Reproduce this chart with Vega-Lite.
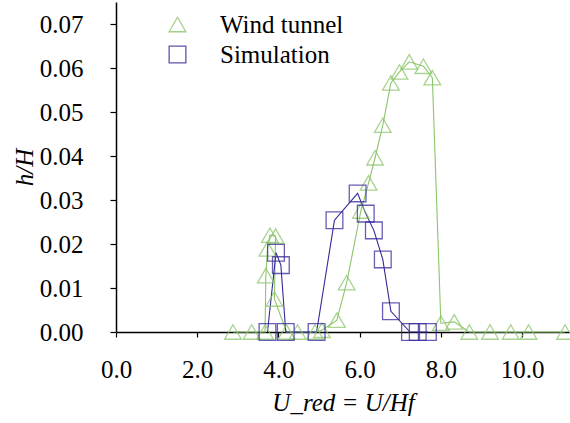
{
  "$schema": "https://vega.github.io/schema/vega-lite/v6.json",
  "autosize": "none",
  "width": 454,
  "height": 330,
  "padding": {"left": 116, "top": 2, "right": 0, "bottom": 91},
  "config": {
    "view": {"stroke": null},
    "axis": {
      "grid": false,
      "domainColor": "#000000",
      "domainWidth": 1.5,
      "tickColor": "#000000",
      "tickWidth": 1.2,
      "labelFont": "Liberation Serif",
      "labelFontSize": 25,
      "labelColor": "#000000",
      "titleFont": "Liberation Serif",
      "titleFontStyle": "italic",
      "titleFontWeight": "normal",
      "titleFontSize": 25,
      "titleColor": "#000000"
    }
  },
  "data": {
    "values": [
      {"series": "Wind tunnel", "marker": "Wind tunnel", "i": 1, "x": 2.88, "y": 0},
      {"series": "Wind tunnel", "marker": "Wind tunnel", "i": 2, "x": 3.34, "y": 0},
      {"series": "Wind tunnel", "marker": "Wind tunnel", "i": 3, "x": 3.67, "y": 0},
      {"series": "Wind tunnel", "marker": "Wind tunnel", "i": 4, "x": 3.69, "y": 0.0128},
      {"series": "Wind tunnel", "marker": "Wind tunnel", "i": 5, "x": 3.73, "y": 0.0189},
      {"series": "Wind tunnel", "marker": "Wind tunnel", "i": 6, "x": 3.79, "y": 0.022},
      {"series": "Wind tunnel", "marker": "Wind tunnel", "i": 7, "x": 3.93, "y": 0.0218},
      {"series": "Wind tunnel", "marker": "Wind tunnel", "i": 8, "x": 3.9, "y": 0.0075},
      {"series": "Wind tunnel", "marker": "Wind tunnel", "i": 9, "x": 4.2, "y": 0},
      {"series": "Wind tunnel", "marker": "Wind tunnel", "i": 10, "x": 4.47, "y": 0},
      {"series": "Wind tunnel", "marker": "Wind tunnel", "i": 11, "x": 4.9, "y": 0},
      {"series": "Wind tunnel", "marker": "Wind tunnel", "i": 12, "x": 5.07, "y": 0.0004},
      {"series": "Wind tunnel", "marker": "Wind tunnel", "i": 13, "x": 5.44, "y": 0.0027},
      {"series": "Wind tunnel", "marker": "Wind tunnel", "i": 14, "x": 5.68, "y": 0.0112},
      {"series": "Wind tunnel", "marker": "Wind tunnel", "i": 15, "x": 6.03, "y": 0.0275},
      {"series": "Wind tunnel", "marker": "Wind tunnel", "i": 16, "x": 6.22, "y": 0.0339},
      {"series": "Wind tunnel", "marker": "Wind tunnel", "i": 17, "x": 6.38, "y": 0.0396},
      {"series": "Wind tunnel", "marker": "Wind tunnel", "i": 18, "x": 6.57, "y": 0.047},
      {"series": "Wind tunnel", "marker": "Wind tunnel", "i": 19, "x": 6.77, "y": 0.0566},
      {"series": "Wind tunnel", "marker": "Wind tunnel", "i": 20, "x": 6.98, "y": 0.0591},
      {"series": "Wind tunnel", "marker": "Wind tunnel", "i": 21, "x": 7.22, "y": 0.0614},
      {"series": "Wind tunnel", "marker": "Wind tunnel", "i": 22, "x": 7.57, "y": 0.0604},
      {"series": "Wind tunnel", "marker": "Wind tunnel", "i": 23, "x": 7.79, "y": 0.0578},
      {"series": "Wind tunnel", "marker": "Wind tunnel", "i": 24, "x": 8.0, "y": 0.002},
      {"series": "Wind tunnel", "marker": "Wind tunnel", "i": 25, "x": 8.33, "y": 0.0023},
      {"series": "Wind tunnel", "marker": "Wind tunnel", "i": 26, "x": 8.7, "y": 0},
      {"series": "Wind tunnel", "marker": "Wind tunnel", "i": 27, "x": 9.21, "y": 0},
      {"series": "Wind tunnel", "marker": "Wind tunnel", "i": 28, "x": 9.72, "y": 0},
      {"series": "Wind tunnel", "marker": "Wind tunnel", "i": 29, "x": 10.16, "y": 0},
      {"series": "Wind tunnel", "marker": "Wind tunnel", "i": 30, "x": 11.06, "y": 0},
      {"series": "Simulation", "marker": "Simulation", "i": 31, "x": 3.73, "y": 0},
      {"series": "Simulation", "marker": "Simulation", "i": 32, "x": 3.94, "y": 0.018},
      {"series": "Simulation", "marker": "Simulation", "i": 33, "x": 4.06, "y": 0.0152},
      {"series": "Simulation", "marker": "Simulation", "i": 34, "x": 4.18, "y": 0},
      {"series": "Simulation", "marker": "Simulation", "i": 35, "x": 4.94, "y": 0},
      {"series": "Simulation", "marker": "Simulation", "i": 36, "x": 5.38, "y": 0.0254},
      {"series": "Simulation", "marker": "Simulation", "i": 37, "x": 5.95, "y": 0.0315},
      {"series": "Simulation", "marker": "Simulation", "i": 38, "x": 6.15, "y": 0.0269},
      {"series": "Simulation", "marker": "Simulation", "i": 39, "x": 6.35, "y": 0.0231},
      {"series": "Simulation", "marker": "Simulation", "i": 40, "x": 6.57, "y": 0.0165},
      {"series": "Simulation", "marker": "Simulation", "i": 41, "x": 6.77, "y": 0.0047},
      {"series": "Simulation", "marker": "Simulation", "i": 42, "x": 7.24, "y": 0},
      {"series": "Simulation", "marker": "Simulation", "i": 43, "x": 7.43, "y": 0},
      {"series": "Simulation", "marker": "Simulation", "i": 44, "x": 7.68, "y": 0}
    ]
  },
  "encoding": {
    "x": {
      "field": "x",
      "type": "quantitative",
      "scale": {"domain": [0, 11.18], "nice": false, "zero": false},
      "axis": {
        "values": [0, 2, 4, 6, 8, 10],
        "format": ".1f",
        "tickSize": 5,
        "labelBaseline": "alphabetic",
        "labelPadding": 40,
        "labelDx": -3,
        "labelFlush": false,
        "title": "U_red = U/Hf",
        "titleBaseline": "alphabetic",
        "titleY": 78
      }
    },
    "y": {
      "field": "y",
      "type": "quantitative",
      "scale": {"domain": [0, 0.075], "nice": false},
      "axis": {
        "values": [0, 0.01, 0.02, 0.03, 0.04, 0.05, 0.06, 0.07],
        "format": ".2f",
        "tickSize": 6,
        "labelPadding": 27,
        "labelFlush": false,
        "title": "h/H",
        "titleX": -79,
        "titleBaseline": "bottom"
      }
    },
    "color": {
      "field": "series",
      "type": "nominal",
      "scale": {"domain": ["Wind tunnel", "Simulation"], "range": ["#8cc56b", "#35299a"]},
      "legend": {
        "title": null,
        "orient": "none",
        "legendX": 49,
        "legendY": 10,
        "padding": 0,
        "labelFont": "Liberation Serif",
        "labelFontSize": 25,
        "labelColor": "#000000",
        "labelOffset": 30,
        "rowPadding": 4,
        "symbolSize": 280,
        "symbolStrokeWidth": 1.3,
        "symbolFillColor": "transparent",
        "symbolOpacity": 0.8,
        "encode": {
          "symbols": {
            "update": {
              "shape": {"signal": "datum.value === 'Wind tunnel' ? 'M-2.6,0L2.6,0M0,-0.866L1,0.866L-1,0.866Z' : 'M-2.6,0L2.6,0M-1,-1L1,-1L1,1L-1,1Z'"},
              "fill": {"value": "transparent"}
            }
          }
        }
      }
    }
  },
  "layer": [
    {
      "mark": {"type": "line", "strokeWidth": 1.1},
      "encoding": {
        "order": {"field": "i", "type": "quantitative"}
      }
    },
    {
      "mark": {"type": "point", "filled": false, "size": 280, "strokeWidth": 1.3, "opacity": 0.75},
      "encoding": {
        "shape": {
          "field": "marker",
          "type": "nominal",
          "scale": {"domain": ["Wind tunnel", "Simulation"], "range": ["triangle-up", "square"]},
          "legend": null
        }
      }
    }
  ]
}
